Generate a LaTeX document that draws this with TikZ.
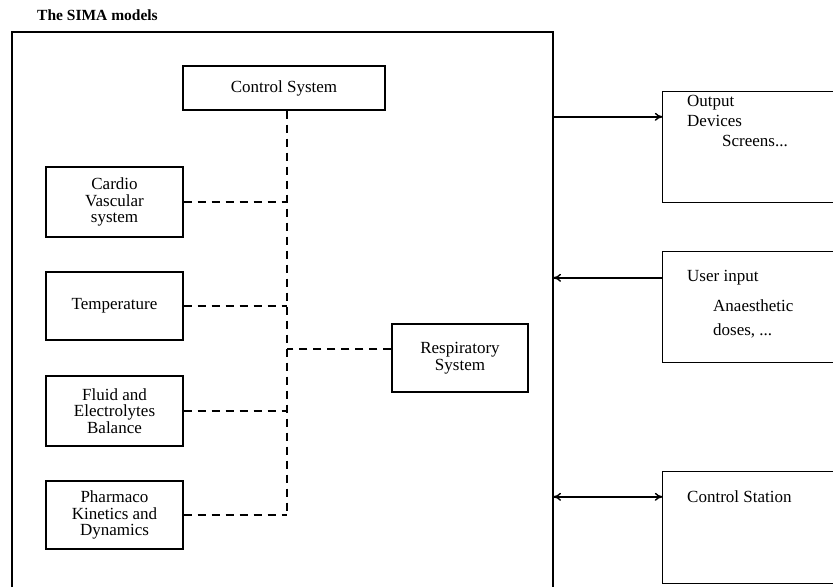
\documentclass[tikz,border=0pt]{standalone}
\usepackage{fontspec}
\setmainfont{Liberation Serif}
\usetikzlibrary{arrows.meta}
\begin{document}
\begin{tikzpicture}[x=1pt,y=-1pt,
  box/.style={draw, line width=1.1pt, inner sep=0pt, align=center, font=\fontsize{17}{16.5}\selectfont},
  side/.style={inner sep=0pt, minimum width=170pt},
  lbl/.style={inner sep=0pt, anchor=west, font=\fontsize{17}{18}\selectfont},
  link/.style={dash pattern=on 8pt off 6pt, line width=1.1pt},
  frame/.style={line width=1.3pt},
  flow/.style={line width=1.4pt},
  tip/.style={-{To[length=8pt,width=8pt]}},
  tips/.style={{To[length=8pt,width=8pt]}-{To[length=8pt,width=8pt]}}
]
\useasboundingbox (0,0) rectangle (833,587);

% title and frame
\node[inner sep=0pt, anchor=west, font=\bfseries\fontsize{15.5}{15.5}\selectfont] (title) at (37,15) {The SIMA models};
\coordinate (fbl) at (12,587);
\coordinate (ftl) at (12,32);
\coordinate (ftr) at (553,32);
\coordinate (fbr) at (553,587);
\draw[frame] (fbl) -- (ftl) -- (ftr) -- (fbr);

% model boxes
\node[box, minimum width=202pt, minimum height=44pt] (ctrl) at (284,88) {Control System};
\node[box, minimum width=137pt, minimum height=70pt] (cv) at (114.5,202) {Cardio\\Vascular\\system};
\node[box, minimum width=137pt, minimum height=68pt] (temp) at (114.5,306) {Temperature};
\node[box, minimum width=137pt, minimum height=70pt] (fluid) at (114.5,411) {Fluid and\\Electrolytes\\Balance};
\node[box, minimum width=137pt, minimum height=68pt] (pk) at (114.5,515) {Pharmaco\\Kinetics and\\Dynamics};
\node[box, minimum width=136pt, minimum height=68pt] (resp) at (460,358) {Respiratory\\System};

% dashed links
\coordinate (spine) at (287,0);
\draw[link] (ctrl.south -| spine) -- (pk.east -| spine);
\draw[link] (cv.east) -- (cv.east -| spine);
\draw[link] (temp.east) -- (temp.east -| spine);
\draw[link] (fluid.east) -- (fluid.east -| spine);
\draw[link] (pk.east) -- (pk.east -| spine);
\draw[link] ([yshift=9pt]resp.west) -- ([yshift=9pt]resp.west -| spine);

% right side boxes (cut at the right edge)
\node[side, minimum height=110pt] (out) at (748,147) {};
\node[side, minimum height=110pt] (user) at (748,307) {};
\node[side, minimum height=111pt] (station) at (748,527.5) {};
\foreach \b in {out,user,station}
  \draw[frame] (\b.north east) -- (\b.north west) -- (\b.south west) -- (\b.south east);

\node[lbl] (outa) at (687,103) {Output};
\node[lbl] (outb) at (687,121) {Devices};
\node[lbl] (outc) at (722,141) {Screens...};
\node[lbl] (usera) at (687,278) {User input};
\node[lbl] (userb) at (713,306) {Anaesthetic};
\node[lbl] (userc) at (713,331) {doses, ...};
\node[lbl] (sta) at (687,497) {Control Station};

% arrows
\coordinate (wall) at (553,0);
\draw[flow, tip] ([yshift=-25pt]out.north west -| wall) -- ([yshift=-25pt]out.north west);
\draw[flow, tip] ([yshift=-26pt]user.north west) -- ([yshift=-26pt]user.north west -| wall);
\draw[flow, tips] ([yshift=-25pt]station.north west -| wall) -- ([yshift=-25pt]station.north west);
\end{tikzpicture}
\end{document}
